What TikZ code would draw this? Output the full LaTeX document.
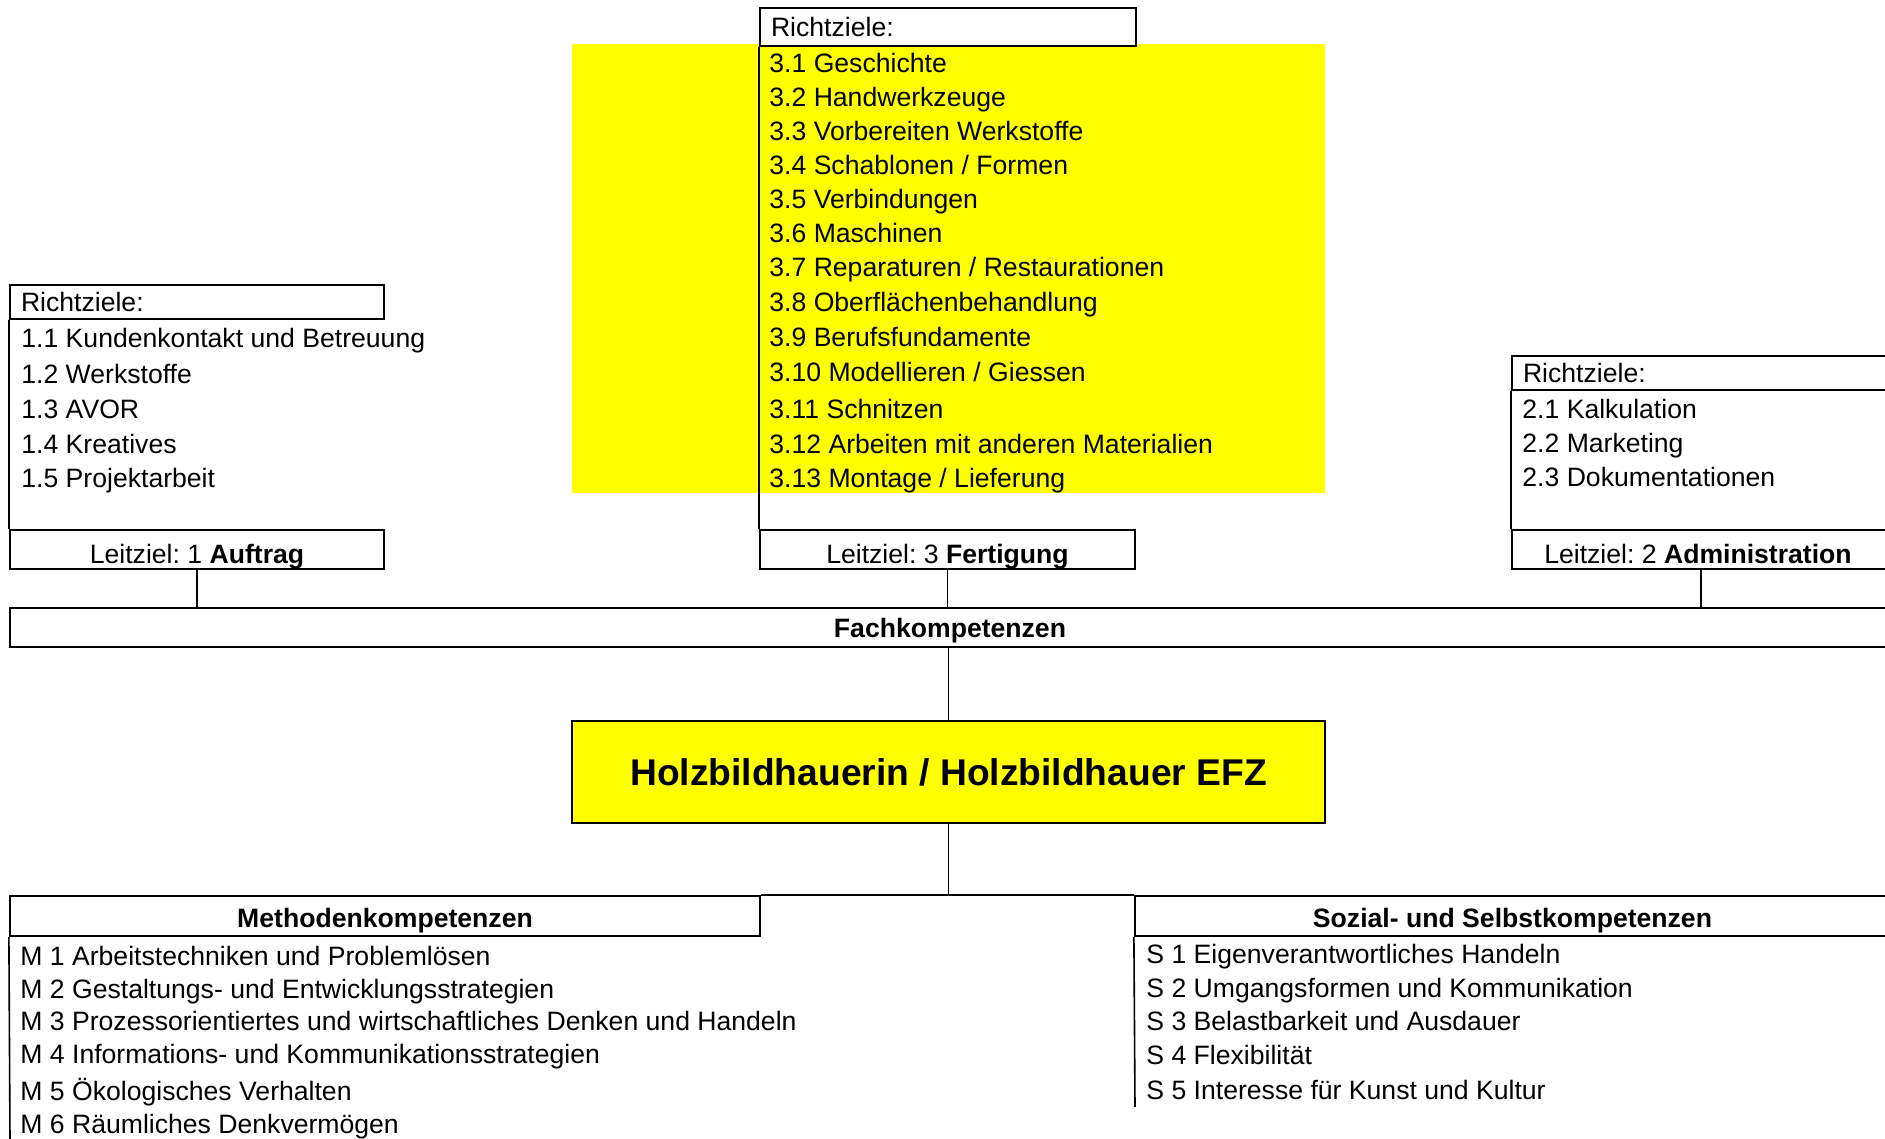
\documentclass[tikz,border=0pt]{standalone}
\usepackage{fontspec}
\setmainfont{Liberation Sans}
\usepackage{xcolor}
\definecolor{gelb}{RGB}{255,255,0}
\newcommand\grundschrift{\fontsize{13.3pt}{15pt}\selectfont}
\newcommand\titelschrift{\fontsize{18.6pt}{22pt}\selectfont\bfseries}
\frenchspacing

\begin{document}
\begin{tikzpicture}[x=0.5pt,y=-0.5pt]
\tikzstyle{every node}=[font=\grundschrift]
\tikzstyle{kasten}=[draw, line width=1.1pt, fill=white, inner sep=0pt]
\tikzstyle{kopf}=[kasten, inner xsep=5.5pt, align=left, minimum height=17pt]
\tikzstyle{eintrag}=[anchor=base west, inner sep=0pt]
\tikzstyle{linie}=[line width=0.8pt]
    \useasboundingbox (0,0) rectangle (1885,1139);
    \clip (0,0) rectangle (1885,1139);

    % gelber Block hinter den Richtzielen 3
    \fill[gelb] (572,44) rectangle (1325,493);

    % Leitziel 1
    \node[kopf, text width=176pt] (rz1) at (197,302) {Richtziele:};
    \node[kasten, minimum width=187pt, minimum height=19.5pt, text height=13.5pt, text depth=0pt] (lz1) at (197,549.5) {Leitziel: 1 \textbf{Auftrag}};
    \node[eintrag] (r11) at (21,348) {1.1 Kundenkontakt und Betreuung};
    \node[eintrag] (r12) at (21,383) {1.2 Werkstoffe};
    \node[eintrag] (r13) at (21,418) {1.3 AVOR};
    \node[eintrag] (r14) at (21,453) {1.4 Kreatives};
    \node[eintrag] (r15) at (21,487) {1.5 Projektarbeit};

    % Leitziel 3
    \node[kopf, text width=177pt, minimum height=19pt] (rz3) at (948,27) {Richtziele:};
    \node[kasten, minimum width=187.5pt, minimum height=19.5pt, text height=13.5pt, text depth=0pt] (lz3) at (947.5,549.5) {Leitziel: 3 \textbf{Fertigung}};
    \node[eintrag] (r31) at (769,73) {3.1 Geschichte};
    \node[eintrag] (r32) at (769,107) {3.2 Handwerkzeuge};
    \node[eintrag] (r33) at (769,141) {3.3 Vorbereiten Werkstoffe};
    \node[eintrag] (r34) at (769,175) {3.4 Schablonen / Formen};
    \node[eintrag] (r35) at (769,209) {3.5 Verbindungen};
    \node[eintrag] (r36) at (769,243) {3.6 Maschinen};
    \node[eintrag] (r37) at (769,277) {3.7 Reparaturen / Restaurationen};
    \node[eintrag] (r38) at (769,312) {3.8 Oberflächenbehandlung};
    \node[eintrag] (r39) at (769,346) {3.9 Berufsfundamente};
    \node[eintrag] (r310) at (769,381) {3.10 Modellieren / Giessen};
    \node[eintrag] (r311) at (769,418) {3.11 Schnitzen};
    \node[eintrag] (r312) at (769,453) {3.12 Arbeiten mit anderen Materialien};
    \node[eintrag] (r313) at (769,487) {3.13 Montage / Lieferung};

    % Leitziel 2
    \node[kopf, text width=178pt] (rz2) at (1701,373) {Richtziele:};
    \node[kasten, minimum width=189pt, minimum height=19.5pt, text height=13.5pt, text depth=0pt] (lz2) at (1701,549.5) {\hspace*{-3pt}Leitziel: 2 \textbf{Administration}};
    \node[eintrag] (r21) at (1522,418) {2.1 Kalkulation};
    \node[eintrag] (r22) at (1522,452) {2.2 Marketing};
    \node[eintrag] (r23) at (1522,486) {2.3 Dokumentationen};

    % Fachkompetenzen und Beruf
    \node[kasten, minimum width=940pt, minimum height=19.5pt, text height=9.5pt, text depth=0pt] (fach) at (950,627.5) {\textbf{Fachkompetenzen}};
    \node[kasten, fill=gelb, minimum width=376.5pt, minimum height=51pt, font=\titelschrift] (beruf) at (948.5,772) {Holzbildhauerin / Holzbildhauer EFZ};

    % Methoden- und Sozialkompetenzen
    \node[kasten, minimum width=375pt, minimum height=20pt, text height=11pt, text depth=0pt] (meth) at (385,916) {\textbf{Methodenkompetenzen}};
    \node[kasten, minimum width=377.5pt, minimum height=20pt, text height=11pt, text depth=0pt] (soz) at (1512.5,916) {\textbf{Sozial- und Selbstkompetenzen}};
    \node[eintrag] (m1) at (20,965) {M 1 Arbeitstechniken und Problemlösen};
    \node[eintrag] (m2) at (20,998) {M 2 Gestaltungs- und Entwicklungsstrategien};
    \node[eintrag] (m3) at (20,1030) {M 3 Prozessorientiertes und wirtschaftliches Denken und Handeln};
    \node[eintrag] (m4) at (20,1063) {M 4 Informations- und Kommunikationsstrategien};
    \node[eintrag] (m5) at (20,1100) {M 5 Ökologisches Verhalten};
    \node[eintrag] (m6) at (20,1133) {M 6 Räumliches Denkvermögen};
    \node[eintrag] (s1) at (1146,963) {S 1 Eigenverantwortliches Handeln};
    \node[eintrag] (s2) at (1146,997) {S 2 Umgangsformen und Kommunikation};
    \node[eintrag] (s3) at (1146,1030) {S 3 Belastbarkeit und Ausdauer};
    \node[eintrag] (s4) at (1146,1064) {S 4 Flexibilität};
    \node[eintrag] (s5) at (1146,1099) {S 5 Interesse für Kunst und Kultur};
    \coordinate (mende) at (10,1139);
    \coordinate (sende) at (1135,1107);

    % Linien
    \draw[linie] (rz1.south west) -- (lz1.north west);
    \draw[linie] (rz3.south west) -- (lz3.north west);
    \draw[linie] (rz2.south west) -- (lz2.north west);
    \draw[linie] (lz1.south) -- (lz1.south |- fach.north);
    \draw[linie] (lz3.south) -- (lz3.south |- fach.north);
    \draw[linie] (lz2.south) -- (lz2.south |- fach.north);
    \draw[linie] (beruf.north) -- (beruf.north |- fach.south);
    \draw[linie] (beruf.south) -- (beruf.south |- meth.north);
    \draw[line width=1.1pt] (meth.north east) -- (soz.north west);
    \draw[linie] (meth.south west) -- (mende);
    \draw[linie] (soz.south west) -- (sende);
\end{tikzpicture}
\end{document}
